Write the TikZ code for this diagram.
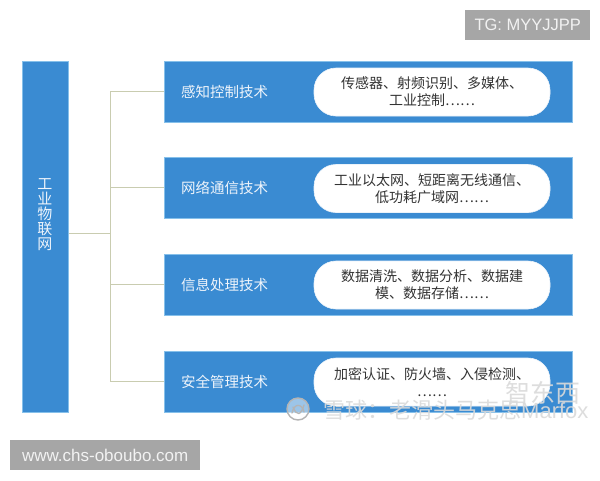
\documentclass[tikz,border=0pt]{standalone}
\usepackage{fontspec}
\setmainfont{Liberation Sans}
\newfontfamily\cjk{Noto Sans CJK SC}
\definecolor{boxblue}{HTML}{3A8BD2}
\definecolor{edgeblue}{HTML}{86C0EA}
\definecolor{linecol}{HTML}{C9CCB0}
\definecolor{tagbg}{HTML}{A6A6A6}
\definecolor{labtext}{HTML}{EEF4FB}
\definecolor{pilltext}{HTML}{333333}
\definecolor{wmgray}{HTML}{B4B4B4}
\definecolor{wmfill}{HTML}{DADADA}
\begin{document}
\begin{tikzpicture}[x=1pt,y=-1pt,
  catbox/.style={fill=boxblue, draw=edgeblue, line width=0.8pt, minimum width=408pt, minimum height=61pt, inner sep=0pt, anchor=north west},
  catlabel/.style={anchor=west, inner sep=0pt, text=labtext, font=\cjk\fontsize{14.5}{17}\selectfont},
  pill/.style={fill=white, draw=white!90!boxblue, line width=0.6pt, rounded corners=22pt, minimum width=236pt, minimum height=48pt, inner sep=0pt, align=center, text=pilltext, font=\cjk\fontsize{14}{17}\selectfont},
  conn/.style={draw=linecol, line width=1pt},
  tag/.style={fill=tagbg, text=white!95!black, inner sep=0pt, font=\fontsize{16.5}{18}\selectfont},
  wm/.style={inner sep=0pt, text=wmfill, text opacity=0.9, anchor=west}
]
\useasboundingbox (0,0) rectangle (600,480);
\fill[white] (0,0) rectangle (600,480);

% left bar
\node[fill=boxblue, draw=edgeblue, line width=0.8pt, minimum width=46pt, minimum height=351pt, inner sep=0pt, anchor=north west] (bar) at (22,61) {};
\node[inner sep=0pt, align=center, text=labtext, font=\cjk\fontsize{15}{15}\selectfont] (bartext) at (45,215) {工\\业\\物\\联\\网};

% category boxes
\node[catbox] (b1) at (164,61) {};
\node[catbox] (b2) at (164,157) {};
\node[catbox] (b3) at (164,254) {};
\node[catbox] (b4) at (164,351) {};

\node[catlabel] (l1) at (181,91.5) {感知控制技术};
\node[catlabel] (l2) at (181,187.5) {网络通信技术};
\node[catlabel] (l3) at (181,284.5) {信息处理技术};
\node[catlabel] (l4) at (181,381.5) {安全管理技术};

\node[pill] (p1) at (432,92) {传感器、射频识别、多媒体、\\工业控制……};
\node[pill] (p2) at (432,188.5) {工业以太网、短距离无线通信、\\低功耗广域网……};
\node[pill] (p3) at (432,285) {数据清洗、数据分析、数据建\\模、数据存储……};
\node[pill] (p4) at (432,382) {加密认证、防火墙、入侵检测、\\……};

% connectors
\coordinate (hub) at (110,233);
\draw[conn] (bar.east |- hub) -- (hub);
\draw[conn] (b1.west) -- (b1.west -| hub) -- (b4.west -| hub) -- (b4.west);
\draw[conn] (b2.west -| hub) -- (b2.west);
\draw[conn] (b3.west -| hub) -- (b3.west);

% tags
\node[tag, minimum width=125pt, minimum height=30pt, anchor=north west] (tg) at (465,10) {TG: MYYJJPP};
\node[tag, minimum width=190pt, minimum height=30pt, anchor=north west, font=\fontsize{17}{19}\selectfont] (www) at (10,440) {www.chs-oboubo.com};

% watermark
\node[wm, font=\cjk\fontsize{25}{25}\selectfont] (wm1) at (505,393) {智东西};
\node[wm, font=\cjk\fontsize{22}{22}\selectfont] (wm2) at (323,410) {雪球：老滑头马克思{\normalfont\fontsize{22}{22}\selectfont Marfox}};
\node[circle, draw=wmgray, line width=1.4pt, fill=white, fill opacity=0.5, minimum size=22pt, inner sep=0pt] (logo) at (298,409) {};
\begin{scope}[shift={(logo.center)}]
\draw[wmgray, line width=1.3pt, line cap=round] (-6,4) .. controls (-4,-6) and (4,-6) .. (6,3);
\draw[wmgray, line width=1.3pt, line cap=round] (-5,-2) .. controls (-1,8) and (3,6) .. (6,-4);
\end{scope}
\end{tikzpicture}
\end{document}
